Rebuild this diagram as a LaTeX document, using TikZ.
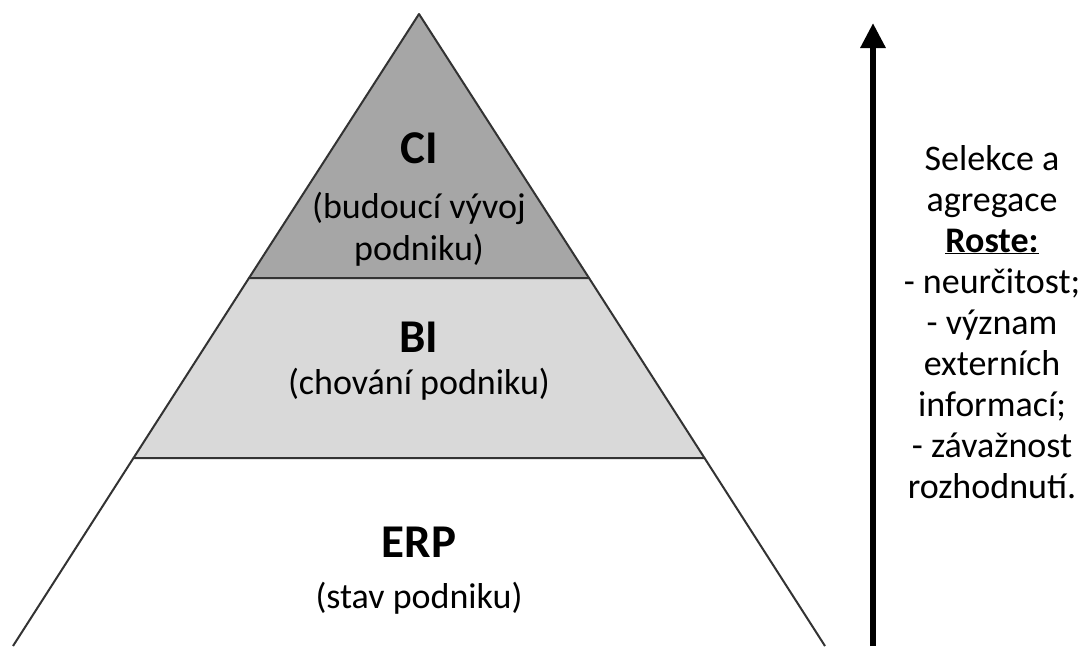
\documentclass[tikz,border=0pt]{standalone}
\usepackage{fontspec}
\setmainfont{Carlito}
\usetikzlibrary{arrows.meta}
\definecolor{cigray}{HTML}{A6A6A6}
\definecolor{bigray}{HTML}{D9D9D9}
\definecolor{edge}{HTML}{333333}
\begin{document}
\begin{tikzpicture}[x=1pt,y=-1pt,
  layer/.style={draw=edge, line width=2pt, line join=round},
  title/.style={font=\fontsize{47}{52}\selectfont\bfseries, anchor=base, inner sep=0pt},
  sub/.style={font=\fontsize{36}{42}\selectfont, anchor=base, inner sep=0pt},
  note/.style={font=\fontsize{36}{41}\selectfont, anchor=base, inner sep=0pt},
  uparrow/.style={line width=6pt, -{Triangle[length=25pt,width=24pt]}}
]
\useasboundingbox (0,0) rectangle (1089,646);
\coordinate (apex) at (419,14);
\coordinate (l1) at (249,278);
\coordinate (r1) at (589,278);
\coordinate (l2) at (133.5,458);
\coordinate (r2) at (704.5,458);
\coordinate (l3) at (13,646);
\coordinate (r3) at (825,646);
% layers
\filldraw[fill=cigray, layer] (apex) -- (r1) -- (l1) -- cycle;
\filldraw[fill=bigray, layer] (l1) -- (r1) -- (r2) -- (l2) -- cycle;
\draw[layer] (l2) -- (l3);
\draw[layer] (r2) -- (r3);
% texts in the pyramid
\node[title] (ci) at (419,163) {CI};
\node[sub] (cisubA) at (419,218) {(budoucí vývoj};
\node[sub] (cisubB) at (419,260) {podniku)};
\node[title] (bi) at (419,352) {BI};
\node[sub] (bisub) at (419,394) {(chování podniku)};
\node[title] (erp) at (419,557) {ERP};
\node[sub] (erpsub) at (419,608) {(stav podniku)};
% arrow
\coordinate (abot) at (873,646);
\coordinate (atop) at (873,23);
\draw[uparrow] (abot) -- (atop);
% notes
\node[note] (nA) at (992,170) {Selekce a};
\node[note] (nB) at (992,211) {agregace};
\node[note] (nC) at (992,252) {\textbf{\underline{Roste:}}};
\node[note] (nD) at (992,293) {- neurčitost;};
\node[note] (nE) at (992,334) {- význam};
\node[note] (nF) at (992,375) {externích};
\node[note] (nG) at (992,416) {informací;};
\node[note] (nH) at (992,457) {- závažnost};
\node[note] (nI) at (992,498) {rozhodnutí.};
\end{tikzpicture}
\end{document}
